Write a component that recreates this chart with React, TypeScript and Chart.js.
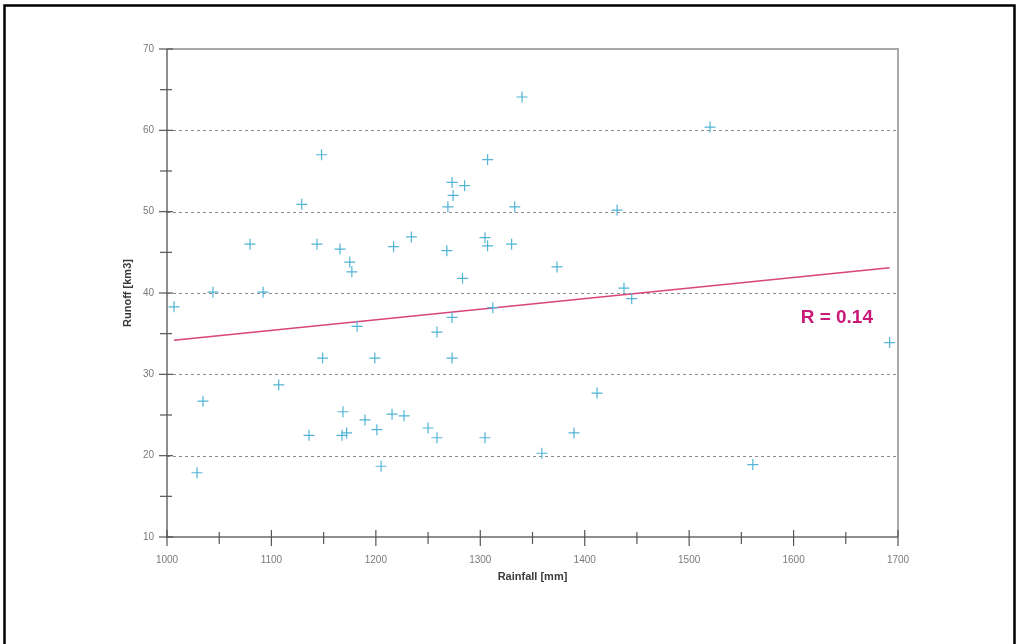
import React, { useEffect, useRef } from 'react';
import { Chart, registerables } from 'chart.js';

Chart.register(...registerables);

// Rainfall [mm] and runoff [km3] per observation
const rainfall = [
  1006.7, 1028.7, 1034.5, 1044, 1079.5, 1092, 1107, 1129, 1136, 1143.6,
  1148, 1149, 1165.7, 1168.5, 1167.6, 1172, 1175, 1177, 1182, 1189.6,
  1199, 1201, 1205, 1215.5, 1217, 1227, 1234, 1250, 1258.5, 1258.5,
  1268, 1269, 1273, 1274, 1273, 1273, 1285, 1283, 1304.5, 1307,
  1304.5, 1307, 1312, 1330, 1333, 1340, 1359, 1373.5, 1389.7, 1411.8,
  1431, 1437.6, 1445, 1520, 1561, 1692,
];
const runoff = [
  38.3, 17.9, 26.7, 40.1, 46.0, 40.1, 28.7, 50.9, 22.5, 46.0,
  57.0, 32.0, 45.4, 25.4, 22.5, 22.8, 43.8, 42.6, 35.9, 24.4,
  32.0, 23.2, 18.7, 25.1, 45.7, 24.9, 46.9, 23.4, 35.2, 22.2,
  45.2, 50.6, 53.6, 52.0, 32.0, 37.0, 53.2, 41.8, 46.8, 45.8,
  22.2, 56.4, 38.2, 46.0, 50.6, 64.1, 20.3, 43.2, 22.8, 27.7,
  50.2, 40.6, 39.3, 60.4, 18.9, 33.9,
];

// Regression line end points
const trendRainfall = [1006.7, 1692];
const trendRunoff = [34.2, 43.1];

const xMin = 1000;
const xMax = 1700;
const xTickStep = 50;
const xLabelStep = 100;
const yMin = 10;
const yMax = 70;
const yTickStep = 5;
const yLabelStep = 10;
const gridValues = [20, 30, 40, 50, 60];

const xTitle = 'Rainfall [mm]';
const yTitle = 'Runoff [km3]';
const rLabel = 'R = 0.14';

const decorPlugin = {
  id: 'decor',
  beforeDatasetsDraw(chart: any) {
    const { ctx, chartArea } = chart;
    const xs = chart.scales.x;
    const ys = chart.scales.y;
    const { left, right, top, bottom } = chartArea;
    ctx.save();
    // dashed grid
    ctx.strokeStyle = '#8c8c8c';
    ctx.lineWidth = 1;
    ctx.setLineDash([3, 3]);
    gridValues.forEach((v) => {
      const y = Math.round(ys.getPixelForValue(v)) + 0.5;
      ctx.beginPath();
      ctx.moveTo(left, y);
      ctx.lineTo(right, y);
      ctx.stroke();
    });
    ctx.setLineDash([]);
    // top & right border
    ctx.strokeStyle = '#a8a8a8';
    ctx.lineWidth = 2;
    ctx.beginPath();
    ctx.moveTo(left, top);
    ctx.lineTo(right, top);
    ctx.lineTo(right, bottom);
    ctx.stroke();
    // axes
    ctx.strokeStyle = '#6a6a6a';
    ctx.lineWidth = 1.5;
    ctx.beginPath();
    ctx.moveTo(left, top);
    ctx.lineTo(left, bottom);
    ctx.lineTo(right, bottom);
    ctx.stroke();
    // ticks
    ctx.lineWidth = 1.2;
    ctx.strokeStyle = '#555';
    ys.ticks.forEach((t: any) => {
      const y = ys.getPixelForValue(t.value);
      const major = t.value % yLabelStep === 0;
      ctx.beginPath();
      ctx.moveTo(left - (major ? 8 : 7), y);
      ctx.lineTo(left + (major ? 6 : 5), y);
      ctx.stroke();
    });
    xs.ticks.forEach((t: any) => {
      const x = xs.getPixelForValue(t.value);
      const major = t.value % xLabelStep === 0;
      ctx.beginPath();
      ctx.moveTo(x, bottom - (major ? 7 : 5));
      ctx.lineTo(x, bottom + (major ? 9 : 7));
      ctx.stroke();
    });
    ctx.restore();
  },
  afterDatasetsDraw(chart: any) {
    const { ctx, chartArea, width } = chart;
    ctx.save();
    ctx.fillStyle = '#c81a78';
    ctx.font = 'bold 19px Arial, "Liberation Sans", sans-serif';
    ctx.textAlign = 'right';
    ctx.textBaseline = 'middle';
    ctx.fillText(rLabel, chartArea.right - 25, 318);
    // outer frame
    ctx.strokeStyle = '#000';
    ctx.lineWidth = 2.5;
    ctx.beginPath();
    ctx.moveTo(4.5, 700);
    ctx.lineTo(4.5, 5.5);
    ctx.lineTo(width - 2.5, 5.5);
    ctx.lineTo(width - 2.5, 700);
    ctx.stroke();
    ctx.restore();
  },
};

export default function App() {
  const canvasRef = useRef<HTMLCanvasElement | null>(null);

  useEffect(() => {
    const canvas = canvasRef.current;
    if (!canvas) return;
    const points = rainfall.map((x, i) => ({ x, y: runoff[i] }));
    const trend = trendRainfall.map((x, i) => ({ x, y: trendRunoff[i] }));
    const tickFont = { family: 'Arial, "Liberation Sans", sans-serif', size: 10 };
    const titleFont = { family: 'Arial, "Liberation Sans", sans-serif', size: 11, weight: 'bold' as const };

    const chart = new Chart(canvas, {
      type: 'scatter',
      data: {
        datasets: [
          {
            label: 'Observations',
            data: points,
            pointStyle: 'cross',
            pointRadius: 5.5,
            pointBorderWidth: 1.2,
            borderColor: '#52b4d6',
            backgroundColor: '#52b4d6',
          },
          {
            label: 'Regression',
            data: trend,
            showLine: true,
            pointRadius: 0,
            borderColor: '#d8457c',
            borderWidth: 1.5,
          },
        ],
      },
      options: {
        animation: false,
        responsive: false,
        events: [],
        layout: { padding: { left: 0, top: 49, right: 119, bottom: 0 } },
        plugins: { legend: { display: false }, tooltip: { enabled: false } },
        scales: {
          x: {
            type: 'linear',
            min: xMin,
            max: xMax,
            afterFit: (s: any) => {
              s.height = 107;
            },
            grid: { display: false, drawTicks: false },
            border: { display: false },
            ticks: {
              stepSize: xTickStep,
              autoSkip: false,
              maxRotation: 0,
              padding: 17,
              color: '#7a7a7a',
              font: tickFont,
              callback: (v: any) => (Number(v) % xLabelStep === 0 ? String(v) : ''),
            },
            title: {
              display: true,
              text: xTitle,
              color: '#3a3a3a',
              font: titleFont,
              padding: { top: 0, bottom: 60 },
            },
          },
          y: {
            type: 'linear',
            min: yMin,
            max: yMax,
            afterFit: (s: any) => {
              s.width = 167;
            },
            grid: { display: false, drawTicks: false },
            border: { display: false },
            ticks: {
              stepSize: yTickStep,
              autoSkip: false,
              padding: 13,
              color: '#7a7a7a',
              font: tickFont,
              callback: (v: any) => (Number(v) % yLabelStep === 0 ? String(v) : ''),
            },
            title: {
              display: true,
              text: yTitle,
              color: '#3a3a3a',
              font: titleFont,
              padding: { top: 121, bottom: 0 },
            },
          },
        },
      },
      plugins: [decorPlugin],
    });
    return () => chart.destroy();
  }, []);

  return (
    <div style={{ position: 'fixed', left: 0, top: 0, width: 1017, height: 644, background: '#fff' }}>
      <canvas ref={canvasRef} width={1017} height={644} style={{ display: 'block' }} />
    </div>
  );
}
